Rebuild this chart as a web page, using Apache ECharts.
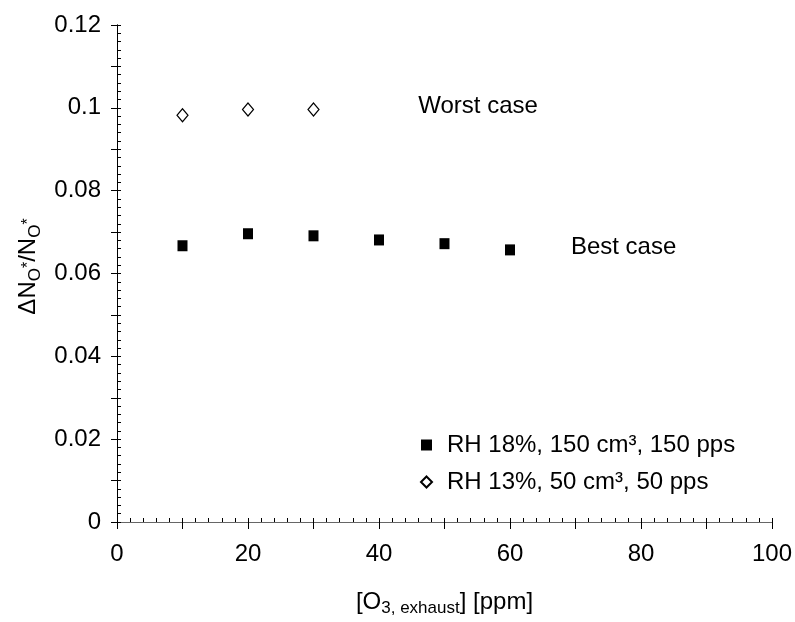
<!DOCTYPE html>
<html>
<head>
<meta charset="utf-8">
<script src="https://cdn.jsdelivr.net/npm/echarts@6/dist/echarts.min.js"></script>
<style>
  html, body { margin: 0; padding: 0; background: #fff; }
  #chart { width: 795px; height: 622px; }
</style>
</head>
<body>
<div id="chart"></div>
<script>
// Ozone concentration in the exhaust [ppm]
const o3Best = [10, 20, 30, 40, 50, 60];
const ratioBest = [0.0667, 0.0696, 0.0691, 0.0681, 0.0672, 0.0657];

const o3Worst = [10, 20, 30];
const ratioWorst = [0.0982, 0.0996, 0.0996];

const seriesNames = ['RH 18%, 150 cm³, 150 pps', 'RH 13%, 50 cm³, 50 pps'];
const xTickLabels = [0, 20, 40, 60, 80, 100];
const yTickLabels = [0, 0.02, 0.04, 0.06, 0.08, 0.1, 0.12];

const FONT = "'Liberation Sans', Arial, sans-serif";
const chart = echarts.init(document.getElementById('chart'), null, { renderer: 'canvas' });

function pairs(xs, ys) { return xs.map((x, i) => [x, ys[i]]); }
function near(list, v) { return list.some(t => Math.abs(t - v) < 1e-9); }

const grid = { left: 117, right: 21, top: 25, bottom: 97 };

const option = {
  animation: false,
  backgroundColor: '#fff',
  textStyle: { fontFamily: FONT },
  grid: grid,
  legend: {
    orient: 'vertical',
    left: 415,
    top: 428,
    itemWidth: 11,
    itemHeight: 11,
    itemGap: 13,
    textStyle: { fontFamily: FONT, fontSize: 24, color: '#000', padding: [0, 0, 0, 10] },
    data: seriesNames
  },
  xAxis: [
    {
      type: 'value', position: 'bottom', min: 0, max: 100, interval: 10,
      name: '{m|[O}{s|3, exhaust}{m|] [ppm]}',
      nameLocation: 'middle', nameGap: 65,
      nameTextStyle: {
        rich: {
          m: { fontFamily: FONT, fontSize: 24, color: '#000', lineHeight: 30 },
          s: { fontFamily: FONT, fontSize: 17, color: '#000', lineHeight: 14, verticalAlign: 'bottom' }
        }
      },
      axisLine: { show: true, lineStyle: { color: '#000', width: 1 } },
      axisTick: { show: true, inside: false, length: 7, lineStyle: { color: '#000' } },
      axisLabel: {
        fontFamily: FONT, fontSize: 24, color: '#000', margin: 20,
        formatter: v => near(xTickLabels, v) ? String(v) : ''
      },
      splitLine: { show: false }
    },
    {
      type: 'value', position: 'bottom', min: 0, max: 100, interval: 10,
      axisLine: { show: false },
      axisTick: { show: true, inside: true, length: 4, lineStyle: { color: '#000' } },
      minorTick: { show: true, splitNumber: 5, length: 4, lineStyle: { color: '#000' } },
      axisLabel: { show: false },
      splitLine: { show: false }
    },
    {
      type: 'value', position: 'top', min: 0, max: 100,
      axisLine: { show: true, lineStyle: { color: '#666', width: 1 } },
      axisTick: { show: false }, axisLabel: { show: false }, splitLine: { show: false }
    }
  ],
  yAxis: [
    {
      type: 'value', position: 'left', min: 0, max: 0.12, interval: 0.01,
      name: '{m|ΔN}{s|O}{t|*}{m|/N}{s|O}{t|*}',
      nameLocation: 'middle', nameRotate: 90, nameGap: 70,
      nameTextStyle: {
        padding: [0, 0, 0, 14],
        rich: {
          m: { fontFamily: FONT, fontSize: 24, color: '#000', lineHeight: 30 },
          s: { fontFamily: FONT, fontSize: 17, color: '#000', lineHeight: 17, verticalAlign: 'bottom' },
          t: { fontFamily: FONT, fontSize: 16, color: '#000', lineHeight: 16, verticalAlign: 'middle' }
        }
      },
      axisLine: { show: true, lineStyle: { color: '#000', width: 1 } },
      axisTick: { show: true, inside: false, length: 6, lineStyle: { color: '#000' } },
      axisLabel: {
        fontFamily: FONT, fontSize: 24, color: '#000', margin: 16,
        formatter: v => near(yTickLabels, v) ? String(+v.toFixed(2)) : ''
      },
      splitLine: { show: false }
    },
    {
      type: 'value', position: 'left', min: 0, max: 0.12, interval: 0.01,
      axisLine: { show: false },
      axisTick: { show: true, inside: true, length: 4, lineStyle: { color: '#000' } },
      minorTick: { show: true, splitNumber: 5, length: 4, lineStyle: { color: '#000' } },
      axisLabel: { show: false },
      splitLine: { show: false }
    },
    {
      type: 'value', position: 'right', min: 0, max: 0.12,
      axisLine: { show: true, lineStyle: { color: '#000', width: 1 } },
      axisTick: { show: false }, axisLabel: { show: false }, splitLine: { show: false }
    }
  ],
  series: [
    {
      name: seriesNames[0],
      type: 'scatter',
      xAxisIndex: 0, yAxisIndex: 0,
      symbol: 'rect',
      symbolSize: [10, 11],
      itemStyle: { color: '#000', opacity: 1 },
      data: pairs(o3Best, ratioBest),
      markPoint: {
        symbol: 'circle', symbolSize: 0, silent: true,
        label: {
          show: true, position: 'right', distance: 0,
          fontFamily: FONT, fontSize: 24, color: '#000',
          formatter: p => p.name
        },
        data: [{ name: 'Best case', coord: [69.3, 0.0664] }]
      }
    },
    {
      name: seriesNames[1],
      type: 'scatter',
      xAxisIndex: 0, yAxisIndex: 0,
      symbol: 'diamond',
      symbolSize: [11, 13],
      itemStyle: { color: '#fff', borderColor: '#000', borderWidth: 1.2, opacity: 1 },
      data: pairs(o3Worst, ratioWorst),
      markPoint: {
        symbol: 'circle', symbolSize: 0, silent: true,
        label: {
          show: true, position: 'right', distance: 0,
          fontFamily: FONT, fontSize: 24, color: '#000',
          formatter: p => p.name
        },
        data: [{ name: 'Worst case', coord: [46.0, 0.1003] }]
      }
    }
  ]
};

chart.setOption(option);
</script>
</body>
</html>
